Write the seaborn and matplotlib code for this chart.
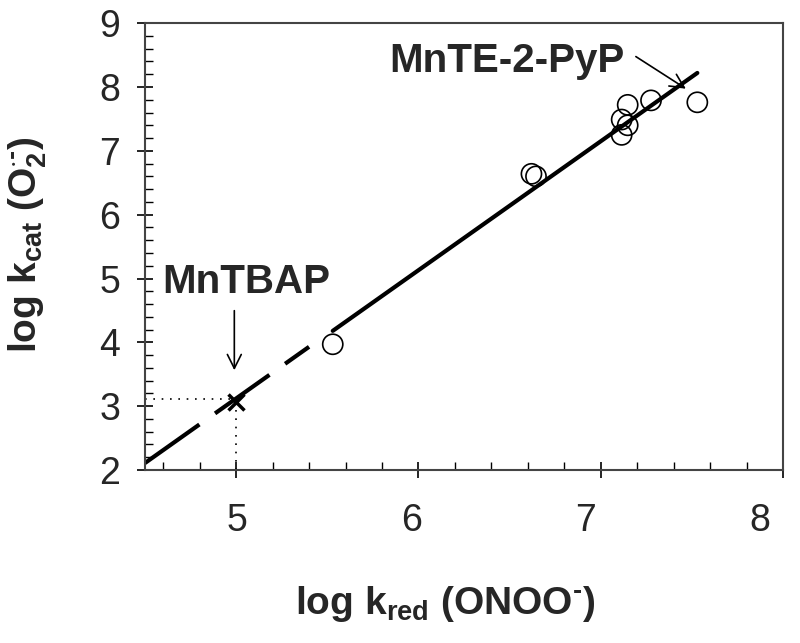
import matplotlib
matplotlib.use("Agg")
import matplotlib.pyplot as plt
import matplotlib.transforms as mtransforms
import seaborn as sns
import pandas as pd

# data
kred = [5.53, 6.62, 6.645, 7.148, 7.276, 7.115, 7.148, 7.115, 7.53]
kcat = [3.97, 6.64, 6.60, 7.72, 7.79, 7.49, 7.40, 7.25, 7.76]

mntbap_x = [5.0]
mntbap_y = [3.07]

fit_dash_x = [4.5, 5.40]
fit_dash_y = [2.11, 3.93]
fit_solid_x = [5.53, 7.53]
fit_solid_y = [4.18, 8.22]

xticks = [5, 6, 7, 8]
yticks = [2, 3, 4, 5, 6, 7, 8, 9]

sns.set_style("white")
plt.rcParams['font.family'] = ['Liberation Sans', 'DejaVu Sans']
plt.rcParams['mathtext.fontset'] = 'custom'
plt.rcParams['mathtext.rm'] = 'Liberation Sans:bold'
plt.rcParams['mathtext.bf'] = 'Liberation Sans:bold'
plt.rcParams['mathtext.it'] = 'Liberation Sans:bold'

df = pd.DataFrame({'kred': kred, 'kcat': kcat})

fig = plt.figure(figsize=(8, 6.43), dpi=100)
ax = fig.add_axes([0.18125, 0.269, 0.7975, 0.695])

sns.lineplot(x=fit_dash_x, y=fit_dash_y, ax=ax, color='black', lw=3.0,
             dashes=False, sort=False)
ax.lines[-1].set_dashes((16, 4.6))
sns.lineplot(x=fit_solid_x, y=fit_solid_y, ax=ax, color='black', lw=3.0, sort=False)

# dotted guides to MnTBAP
ax.plot([4.5, 5.0], [3.12, 3.12], color='black', lw=1.2, ls=(0, (1, 4)))
ax.plot([5.0, 5.0], [2.0, 3.05], color='black', lw=1.2, ls=(0, (1, 4)))

sns.scatterplot(data=df, x='kred', y='kcat', ax=ax, s=210, marker='o',
                facecolor='none', edgecolor='black', linewidth=1.2, zorder=5)
ax.plot(mntbap_x, mntbap_y, marker='x', color='black', ms=11, mew=2.5, ls='none')

ax.text(4.593, 4.77, 'MnTBAP', fontsize=29, fontweight='bold', ha='left', va='baseline')
ax.annotate('', xy=(4.99, 3.52), xytext=(4.99, 4.54),
            arrowprops=dict(arrowstyle='->', lw=1.2, color='black', mutation_scale=25))
ax.text(5.84, 8.23, 'MnTE-2-PyP', fontsize=29, fontweight='bold', ha='left', va='baseline')
ax.annotate('', xy=(7.48, 7.95), xytext=(7.18, 8.5),
            arrowprops=dict(arrowstyle='->', lw=1.2, color='black', mutation_scale=25))

ax.set_xlim(4.5, 8)
ax.set_ylim(2, 9)
ax.set_xticks(xticks)
ax.set_yticks(yticks)
ax.set_xticks([4.6 + 0.2 * i for i in range(17)], minor=True)
ax.set_yticks([2 + 0.2 * i for i in range(36)], minor=True)
ax.tick_params(which='major', direction='inout', length=12, width=1.2, labelsize=27,
               color='black')
ax.tick_params(axis='x', pad=18)
ax.tick_params(axis='y', pad=12)
ax.tick_params(which='minor', direction='in', length=6, width=1.0, color='black')
ax.tick_params(axis='x', which='both', bottom=True)
ax.tick_params(axis='y', which='both', left=True)
for sp in ax.spines.values():
    sp.set_color('#444444')
    sp.set_linewidth(1.5)

# the x tick labels of the original drift left of their ticks
shifts = [1, -7, -15, -23]
for lab, dx in zip(ax.get_xticklabels(), shifts):
    off = mtransforms.ScaledTranslation(dx / 100, 0, fig.dpi_scale_trans)
    lab.set_transform(lab.get_transform() + off)

ax.set_xlabel('log k$_{\\rm red}$ (ONOO$^{\u2010}$)', fontsize=28, fontweight='bold',
              va='center')
ax.set_ylabel('log k$_{\\rm cat}$ (O$_{\\rm 2}^{\\cdot\u2010}$)', fontsize=28, fontweight='bold',
              va='center')
ax.xaxis.set_label_coords(0.47, -0.30)
ax.yaxis.set_label_coords(-0.183, 0.505)

fig.savefig('out.png', dpi=100)
